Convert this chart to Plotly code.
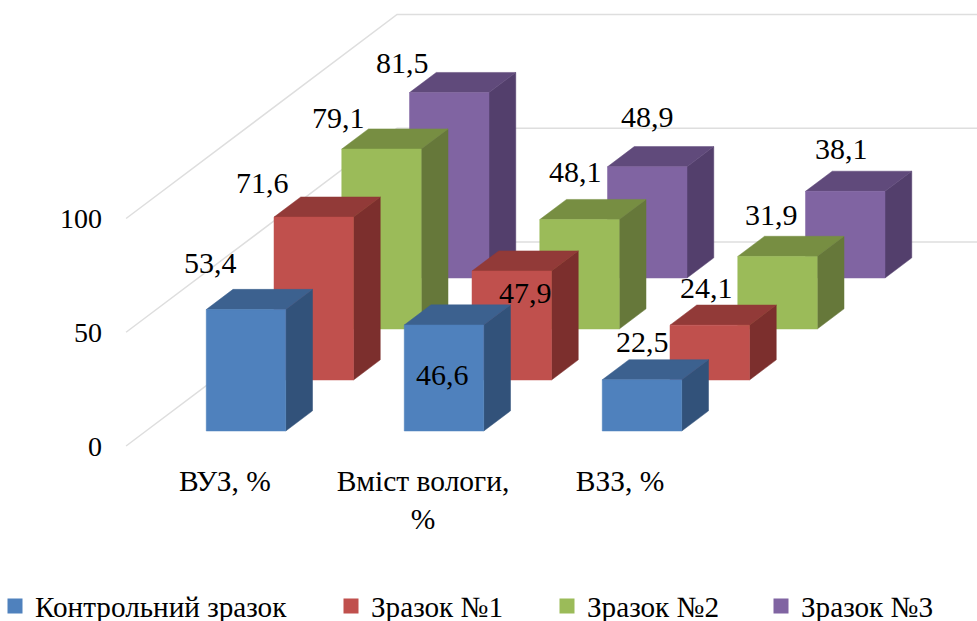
import plotly.graph_objects as go

categories = ["ВУЗ, %", "Вміст вологи,<br>%", "ВЗЗ, %"]
series_names = ["Контрольний зразок", "Зразок №1", "Зразок №2", "Зразок №3"]
control = [53.4, 46.6, 22.5]
sample1 = [71.6, 47.9, 24.1]
sample2 = [79.1, 48.1, 31.9]
sample3 = [81.5, 48.9, 38.1]
series_values = [control, sample1, sample2, sample3]
axis_ticks = [0, 50, 100]

front_colors = ["#4F81BD", "#C0504D", "#9BBB59", "#8064A2"]
top_colors = ["#3C618F", "#923A38", "#778E42", "#604A7B"]
side_colors = ["#32527A", "#7C2F2D", "#66783A", "#533F6C"]

FONT = "Liberation Serif"
FS = 30
GRID = "#DEDEDE"

# page geometry
W, H = 977, 621
L, T, R, B = 103, 0, 977, 460
PX_X, PX_Y = 198.0, 2.275          # px per category, px per value unit
C0_PX = 246.0                      # px of first category centre
V0_PX = 446.0                      # px of value 0 on the front wall edge
SX, SY = 67.75 / PX_X, 51.0 / PX_Y  # shift per series step in depth
BAR_W = 79.5 / PX_X
BAR_D = 0.395                      # bar depth in series steps
D0 = 15.0 / 51.0                   # front gap between wall front edge and first bar


def proj(x, v, d):
    return x + d * SX, v + (d + D0) * SY


def poly(points):
    xs, ys = [], []
    for p in points:
        a, b = proj(*p)
        xs.append(a)
        ys.append(b)
    xs.append(xs[0])
    ys.append(ys[0])
    return xs, ys


fig = go.Figure()

# walls / gridlines
wall_x0 = (146 - C0_PX) / PX_X
for t in axis_ticks:
    x1, y1 = proj(wall_x0, t, -D0)
    x2, y2 = proj(wall_x0, t, 4.0 - D0)
    x3 = (977 - C0_PX) / PX_X
    fig.add_trace(go.Scatter(x=[x1, x2, x3], y=[y1, y2, y2], mode="lines",
                             line=dict(color=GRID, width=1.5),
                             showlegend=False, hoverinfo="skip"))

annots = []
# label nudges (px from the front-left top corner of each bar)
label_nudge = {
    (0, 0): (4, 47), (1, 0): (-12, 35), (2, 0): (-3, 32), (3, 0): (-7, 30),
    (0, 1): (38, -50), (1, 1): (53, -21), (2, 1): (36, 48), (3, 1): (40, 50),
    (0, 2): (40, 38), (1, 2): (36, 38), (2, 2): (34, 42), (3, 2): (36, 43),
}

for s in range(3, -1, -1):
    faces = {"front": ([], []), "top": ([], []), "side": ([], [])}
    for c, v in enumerate(series_values[s]):
        x0 = c - BAR_W / 2
        x1 = c + BAR_W / 2
        d0, d1 = s, s + BAR_D
        polys = {
            "front": [(x0, 0, d0), (x1, 0, d0), (x1, v, d0), (x0, v, d0)],
            "top": [(x0, v, d0), (x1, v, d0), (x1, v, d1), (x0, v, d1)],
            "side": [(x1, 0, d0), (x1, 0, d1), (x1, v, d1), (x1, v, d0)],
        }
        for k, pts in polys.items():
            xs, ys = poly(pts)
            faces[k][0].extend(xs + [None])
            faces[k][1].extend(ys + [None])
        ax, ay = proj(x0, v, d0)
        nx, ny = label_nudge[(s, c)]
        annots.append(dict(x=ax, y=ay, xref="x", yref="y", text=f"{v}".replace(".", ","),
                           showarrow=False, xshift=nx, yshift=ny,
                           xanchor="center", yanchor="middle",
                           font=dict(family=FONT, size=FS, color="#000000")))
    for k, col in (("side", side_colors[s]), ("top", top_colors[s]), ("front", front_colors[s])):
        fig.add_trace(go.Scatter(x=faces[k][0], y=faces[k][1], mode="lines", fill="toself",
                                 fillcolor=col, line=dict(color=col, width=0.5),
                                 showlegend=False, hoverinfo="skip"))

# legends, one entry each
legend_px = [-5, 331, 547, 761]
layout_legends = {}
for i, name in enumerate(series_names):
    key = "legend" if i == 0 else f"legend{i+1}"
    fig.add_trace(go.Scatter(x=[None], y=[None], mode="markers", name=name,
                             marker=dict(symbol="square", size=15, color=front_colors[i]),
                             legend=key, showlegend=True))
    layout_legends[key] = dict(x=(legend_px[i] - L) / (R - L), xref="paper",
                               y=1 - 606 / H, yref="container",
                               xanchor="left", yanchor="middle",
                               font=dict(family=FONT, size=29.2, color="#000000"),
                               bgcolor="rgba(0,0,0,0)", itemwidth=30)

tick_px = [225, 423, 620]
fig.update_layout(
    width=W, height=H,
    autosize=False,
    margin=dict(l=L, r=W - R, t=T, b=H - B, pad=0, autoexpand=False),
    paper_bgcolor="white", plot_bgcolor="white",
    annotations=annots,
    xaxis=dict(range=[(L - C0_PX) / PX_X, (R - C0_PX) / PX_X], showgrid=False, zeroline=False,
               showline=False, ticks="", tickmode="array",
               tickvals=[(p - C0_PX) / PX_X for p in tick_px], ticktext=categories,
               tickfont=dict(family=FONT, size=29.5, color="#000000"), tickangle=0),
    yaxis=dict(range=[(V0_PX - B) / PX_Y, (V0_PX - T) / PX_Y], showgrid=False, zeroline=False,
               showline=False, ticks="", tickmode="array", tickvals=axis_ticks,
               ticktext=[str(t) for t in axis_ticks],
               tickfont=dict(family=FONT, size=28, color="#000000")),
    **layout_legends,
)
fig.write_html("out.html", config={"responsive": False, "displayModeBar": False},
               post_script="document.body.style.margin='0';document.documentElement.style.overflow='hidden';")
